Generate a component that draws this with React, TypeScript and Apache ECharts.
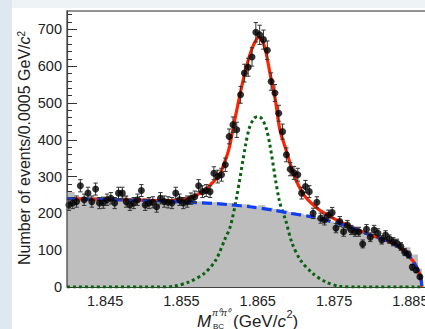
import React, { useEffect, useRef } from "react";
import * as echarts from "echarts";

// Data histogram: bins of 0.0005 GeV starting at 1.840
const BIN_START = 1.84;
const BIN_WIDTH = 0.0005;
const counts = [
  223, 228, 232, 275, 237, 255, 232, 266, 228, 229,
  237, 241, 228, 255, 255, 232, 223, 228, 237, 262,
  223, 228, 230, 218, 241, 232, 230, 228, 255, 237,
  228, 232, 240, 245, 275, 259, 262, 259, 309, 300,
  305, 332, 409, 441, 427, 522, 581, 597, 625, 692,
  685, 672, 643, 558, 527, 472, 422, 359, 320, 310,
  305, 255, 273, 259, 200, 230, 187, 182, 195, 202,
  160, 178, 150, 168, 155, 150, 150, 117, 157, 135,
  155, 146, 128, 141, 130, 123, 119, 110, 95, 88,
  54, 46, 28,
];

// Gray MC background histogram: bins of 0.001 GeV starting at 1.840
const MC_START = 1.84;
const MC_WIDTH = 0.001;
const MC_END = 1.8865;
const mcBackground = [
  258, 245, 240, 246, 238, 244, 236, 248, 240, 236,
  242, 232, 238, 236, 230, 234, 228, 232, 226, 230,
  224, 228, 222, 225, 218, 222, 215, 212, 208, 204,
  200, 196, 188, 184, 178, 172, 166, 160, 154, 150,
  142, 136, 128, 118, 108, 88, 50,
];

// Total fit (red)
const totalFitMass = [
  1.84, 1.845, 1.85, 1.853, 1.855, 1.8565, 1.858, 1.859, 1.86, 1.8605,
  1.8612, 1.862, 1.8629, 1.8636, 1.8642, 1.8647, 1.8651, 1.8655, 1.866, 1.8666,
  1.8673, 1.8679, 1.8687, 1.8695, 1.8701, 1.8712, 1.8728, 1.8745, 1.8767, 1.8798,
  1.882, 1.8838, 1.8853, 1.8861, 1.8864, 1.8865,
];
const totalFitValue = [
  240, 238, 236, 235, 237, 245, 262, 282, 305, 330,
  373, 455, 545, 604, 645, 668, 678, 672, 645, 581,
  509, 427, 373, 318, 286, 246, 214, 191, 168, 141,
  125, 104, 72, 42, 22, 0,
];

// Background fit (blue dashed)
const bkgFitMass = [
  1.84, 1.845, 1.85, 1.855, 1.86, 1.8615, 1.864, 1.867, 1.8693, 1.872,
  1.8746, 1.8768, 1.8798, 1.882, 1.8838, 1.8853, 1.8861, 1.8864, 1.8865,
];
const bkgFitValue = [
  240, 238, 235, 231, 226, 223, 218, 209, 200, 191,
  178, 165, 141, 125, 104, 72, 42, 22, 0,
];

// Signal (green dotted)
const sigFitMass = [
  1.84, 1.852, 1.854, 1.856, 1.858, 1.8595, 1.8607, 1.8614, 1.8622, 1.8634,
  1.8639, 1.8645, 1.865, 1.8655, 1.8661, 1.8666, 1.8678, 1.8687, 1.8695, 1.8706,
  1.8722, 1.8739, 1.8757, 1.878, 1.8865,
];
const sigFitValue = [
  0, 0, 2, 14, 37, 73, 130, 164, 240, 385,
  432, 458, 463, 458, 432, 385, 237, 178, 119, 73,
  37, 14, 2, 0, 0,
];

const xTickLabels = ["1.845", "1.855", "1.865", "1.875", "1.885"];
const yTickLabels = ["0", "100", "200", "300", "400", "500", "600", "700"];

const FONT = "'Liberation Sans', Arial, Helvetica, sans-serif";

export default function App() {
  const ref = useRef<HTMLDivElement>(null);
  useEffect(() => {
    document.body.style.margin = "0";
    const chart = echarts.init(ref.current!, null, { renderer: "svg" });

    const centers = counts.map((_, i) => BIN_START + BIN_WIDTH * (i + 0.5));
    const points = counts.map((c, i) => [centers[i], c]);
    const errors = counts.map((c, i) => [centers[i], c, Math.sqrt(c)]);
    const mcData: number[][] = mcBackground.map((v, i) => [MC_START + MC_WIDTH * i, v]);
    mcData.push([MC_END, 0]);

    const zip = (a: number[], b: number[]) => a.map((m, i) => [m, b[i]]);

    const option: any = {
      animation: false,
      backgroundColor: "#ffffff",
      grid: {
        left: 67,
        right: 11.5,
        top: -7.5,
        bottom: 42,
        containLabel: false,
        outerBoundsMode: "none",
        show: false,
      },
      xAxis: {
        type: "value",
        min: 1.84,
        max: 1.89,
        interval: 0.005,
        axisLine: { show: true, onZero: false, lineStyle: { color: "#444", width: 1 } },
        axisTick: { show: true, inside: true, length: 8, lineStyle: { color: "#333", width: 1 } },
        minorTick: { show: true, splitNumber: 5, length: 4, lineStyle: { color: "#333", width: 1 } },
        splitLine: { show: false },
        axisLabel: {
          margin: 6,
          color: "#222",
          fontFamily: FONT,
          fontSize: 14.5,
          formatter: (v: number) => {
            const s = v.toFixed(3);
            return xTickLabels.includes(s) ? s : "";
          },
        },
      },
      yAxis: {
        type: "value",
        min: 0,
        max: 800,
        interval: 100,
        axisLine: { show: true, lineStyle: { color: "#444", width: 1.2 } },
        axisTick: { show: true, inside: true, length: 10, lineStyle: { color: "#333", width: 1 } },
        minorTick: { show: true, splitNumber: 5, length: 5, lineStyle: { color: "#333", width: 1 } },
        splitLine: { show: false },
        axisLabel: {
          margin: 5,
          color: "#222",
          fontFamily: FONT,
          fontSize: 14.5,
          formatter: (v: number) => {
            const s = String(Math.round(v));
            return yTickLabels.includes(s) ? s : "";
          },
        },
      },
      series: [
        {
          type: "line",
          data: mcData,
          step: "end",
          symbol: "none",
          lineStyle: { width: 0, color: "#bdbdbd" },
          areaStyle: { color: "#bdbdbd", opacity: 1 },
          z: 1,
        },
        {
          type: "line",
          data: zip(sigFitMass, sigFitValue),
          smooth: 0.3,
          symbol: "none",
          lineStyle: { color: "#0a6210", width: 3, type: [3, 3] },
          z: 2,
        },
        {
          type: "line",
          data: zip(totalFitMass, totalFitValue),
          smooth: 0.3,
          symbol: "none",
          lineStyle: { color: "#ff2400", width: 3.2 },
          z: 3,
        },
        {
          type: "line",
          data: zip(bkgFitMass, bkgFitValue),
          smooth: 0.3,
          symbol: "none",
          lineStyle: { color: "#1040f0", width: 3.2, type: [10, 5] },
          z: 4,
        },
        {
          type: "custom",
          data: errors,
          encode: { x: 0, y: 1 },
          z: 5,
          renderItem: (params: any, api: any) => {
            const x = api.value(0);
            const y = api.value(1);
            const e = api.value(2);
            const top = api.coord([x, y + e]);
            const bot = api.coord([x, y - e]);
            const hw = 2.2;
            const st = { stroke: "#333", lineWidth: 1 };
            return {
              type: "group",
              children: [
                { type: "line", shape: { x1: top[0], y1: top[1], x2: bot[0], y2: bot[1] }, style: st },
                { type: "line", shape: { x1: top[0] - hw, y1: top[1], x2: top[0] + hw, y2: top[1] }, style: st },
                { type: "line", shape: { x1: bot[0] - hw, y1: bot[1], x2: bot[0] + hw, y2: bot[1] }, style: st },
              ],
            };
          },
        },
        {
          type: "scatter",
          data: points,
          symbol: "circle",
          symbolSize: 7,
          itemStyle: { color: "#000" },
          z: 6,
        },
      ],
      graphic: [
        { type: "rect", z: 100, shape: { x: 12, y: 0, width: 460, height: 10.4 }, style: { fill: "#ffffff" } },
        { type: "rect", z: 101, shape: { x: 0, y: 0, width: 460, height: 8 }, style: { fill: "#eef3f6" } },
        { type: "rect", z: 101, shape: { x: 0, y: 0, width: 12, height: 329 }, style: { fill: "#dfe8ee" } },
        { type: "line", z: 102, shape: { x1: 67, y1: 11, x2: 460, y2: 11 }, style: { stroke: "#6e6e6e", lineWidth: 1.5 } },
        { type: "line", z: 102, shape: { x1: 67, y1: 10.3, x2: 67, y2: 287 }, style: { stroke: "#444", lineWidth: 1.2 } },
        {
          type: "text",
          z: 102,
          x: 24,
          y: 148,
          rotation: Math.PI / 2,
          style: {
            text: "{a|Number of events/0.0005 GeV/}{i|c}{s|2}",
            textAlign: "center",
            textVerticalAlign: "middle",
            fill: "#222",
            rich: {
              a: { fontFamily: FONT, fontSize: 16, fill: "#222" },
              i: { fontFamily: FONT, fontSize: 16, fontStyle: "italic", fill: "#222" },
              s: { fontFamily: FONT, fontSize: 10, verticalAlign: "top", fill: "#222" },
            },
          },
        },
        { type: "text", z: 102, x: 197, y: 321, style: { text: "M", fontFamily: FONT, fontSize: 17, fontStyle: "italic", fill: "#222", textAlign: "left", textVerticalAlign: "middle" } },
        { type: "text", z: 102, x: 212, y: 313, style: { text: "π⁰π⁰", fontFamily: FONT, fontSize: 9, fontStyle: "italic", fill: "#222", textAlign: "left", textVerticalAlign: "middle" } },
        { type: "text", z: 102, x: 213, y: 326, style: { text: "BC", fontFamily: FONT, fontSize: 8, fill: "#222", textAlign: "left", textVerticalAlign: "middle" } },
        { type: "text", z: 102, x: 233, y: 321, style: { text: "(GeV/", fontFamily: FONT, fontSize: 17, fill: "#222", textAlign: "left", textVerticalAlign: "middle" } },
        { type: "text", z: 102, x: 277.4, y: 321, style: { text: "c", fontFamily: FONT, fontSize: 17, fontStyle: "italic", fill: "#222", textAlign: "left", textVerticalAlign: "middle" } },
        { type: "text", z: 102, x: 286.4, y: 314, style: { text: "2", fontFamily: FONT, fontSize: 11, fill: "#222", textAlign: "left", textVerticalAlign: "middle" } },
        { type: "text", z: 102, x: 292.5, y: 321, style: { text: ")", fontFamily: FONT, fontSize: 17, fill: "#222", textAlign: "left", textVerticalAlign: "middle" } },
      ],
    };

    chart.setOption(option);
    return () => chart.dispose();
  }, []);

  return (
    <div style={{ position: "fixed", left: 0, top: 0, width: 425, height: 329, overflow: "hidden", background: "#fff" }}>
      <div ref={ref} style={{ width: 460, height: 329 }} />
    </div>
  );
}
